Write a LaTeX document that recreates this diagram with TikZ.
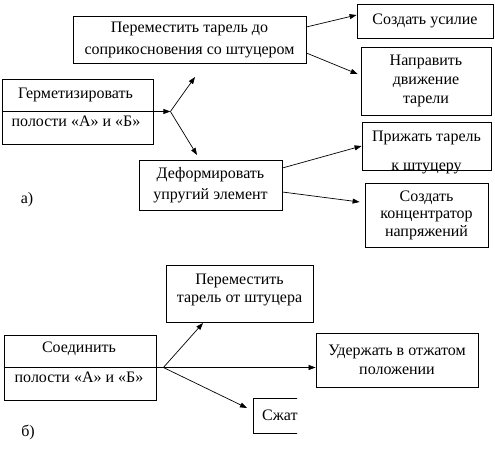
\documentclass[tikz,border=0pt]{standalone}
\usepackage{fontspec}
\setmainfont{Liberation Serif}
\usepackage{tikz}
\usetikzlibrary{arrows.meta, positioning, calc}
\tikzstyle{box} = [rectangle, draw=black, line width=0.8pt, inner sep=0pt, align=center, font=\fontsize{16}{19}\selectfont]
\tikzstyle{txt} = [inner sep=0pt, align=center, font=\fontsize{16}{19}\selectfont]
\tikzstyle{arrow} = [line width=0.7pt, -{Triangle[length=7pt,width=5pt]}]

\begin{document}
\begin{tikzpicture}[x=1pt, y=-1pt]
\useasboundingbox (0,0) rectangle (495,449);
% a)
\node (herm) [box, minimum width=151pt, minimum height=65pt] at (77.5,111.5) {};
\node (hermup) [txt] at (75.5,95) {Герметизировать};
\node (hermlo) [txt] at (76,121.5) {полости «А» и «Б»};
\node (per) [box, minimum width=233pt, minimum height=47pt, font=\fontsize{16}{22}\selectfont] at (189.5,39.5) {Переместить тарель до\\соприкосновения со штуцером};
\node (deform) [box, minimum width=143pt, minimum height=50pt, font=\fontsize{16}{21}\selectfont] at (210.5,185) {Деформировать\\упругий элемент};
\node (usil) [box, minimum width=136pt, minimum height=34pt] at (425,21) {Создать усилие};
\node (napr) [box, minimum width=130pt, minimum height=68pt] at (426,81) {Направить\\движение\\тарели};
\node (prizh) [box, minimum width=129pt, minimum height=48pt] at (426.5,146) {};
\node (prizhtxt) [txt, font=\fontsize{16}{29}\selectfont] at (426.5,152) {Прижать тарель\\к штуцеру};
\node (konc) [box, minimum width=123pt, minimum height=64pt, font=\fontsize{16}{17.5}\selectfont] at (426.5,215) {Создать\\концентратор\\напряжений};
\node (lba) [txt] at (27,200) {а)};

\coordinate (ba) at ([xshift=17pt]herm.east);
\coordinate (pertip) at (195,77);
\coordinate (deftip) at (197,155);
\draw [arrow] (herm.west) -- (ba);
\draw [arrow] (ba) -- (pertip);
\draw [arrow] (ba) -- (deftip);
\draw [arrow] ([yshift=12.5pt]per.east) -- ([yshift=6pt]usil.west);
\draw [arrow] ([yshift=-13.5pt]per.east) -- ([xshift=-3pt,yshift=7pt]napr.west);
\draw [arrow] ([yshift=17pt]deform.east) -- (prizh.west);
\draw [arrow] ([yshift=-7pt]deform.east) -- ([xshift=-5pt,yshift=13pt]konc.west);

% b)
\node (sojed) [box, minimum width=152pt, minimum height=65pt] at (80,367.5) {};
\node (sojedup) [txt] at (79,349) {Соединить};
\node (sojedlo) [txt] at (79,377) {полости «А» и «Б»};
\node (otst) [box, minimum width=147pt, minimum height=57pt, font=\fontsize{16}{18}\selectfont, text depth=10pt] at (239.5,293.5) {Переместить\\тарель от штуцера};
\node (uderzh) [box, minimum width=162pt, minimum height=54pt] at (397,360) {Удержать в отжатом\\положении};
\begin{scope}
\clip (250,390) rectangle (297,440);
\node (szh) [box, minimum width=100pt, minimum height=35pt] at (303,415.5) {};
\node (szhtxt) [txt, anchor=west] at (262,415) {Сжать};
\end{scope}
\node (lbb) [txt] at (28,432) {б)};

\coordinate (bb) at ([xshift=7pt]sojed.east);
\coordinate (otsttip) at (203,323);
\coordinate (szhtip) at (247,408);
\draw [arrow] (sojed.west) -- (sojed.west -| uderzh.west);
\draw [arrow] (bb) -- (otsttip);
\draw [arrow] (bb) -- (szhtip);
\end{tikzpicture}
\end{document}
